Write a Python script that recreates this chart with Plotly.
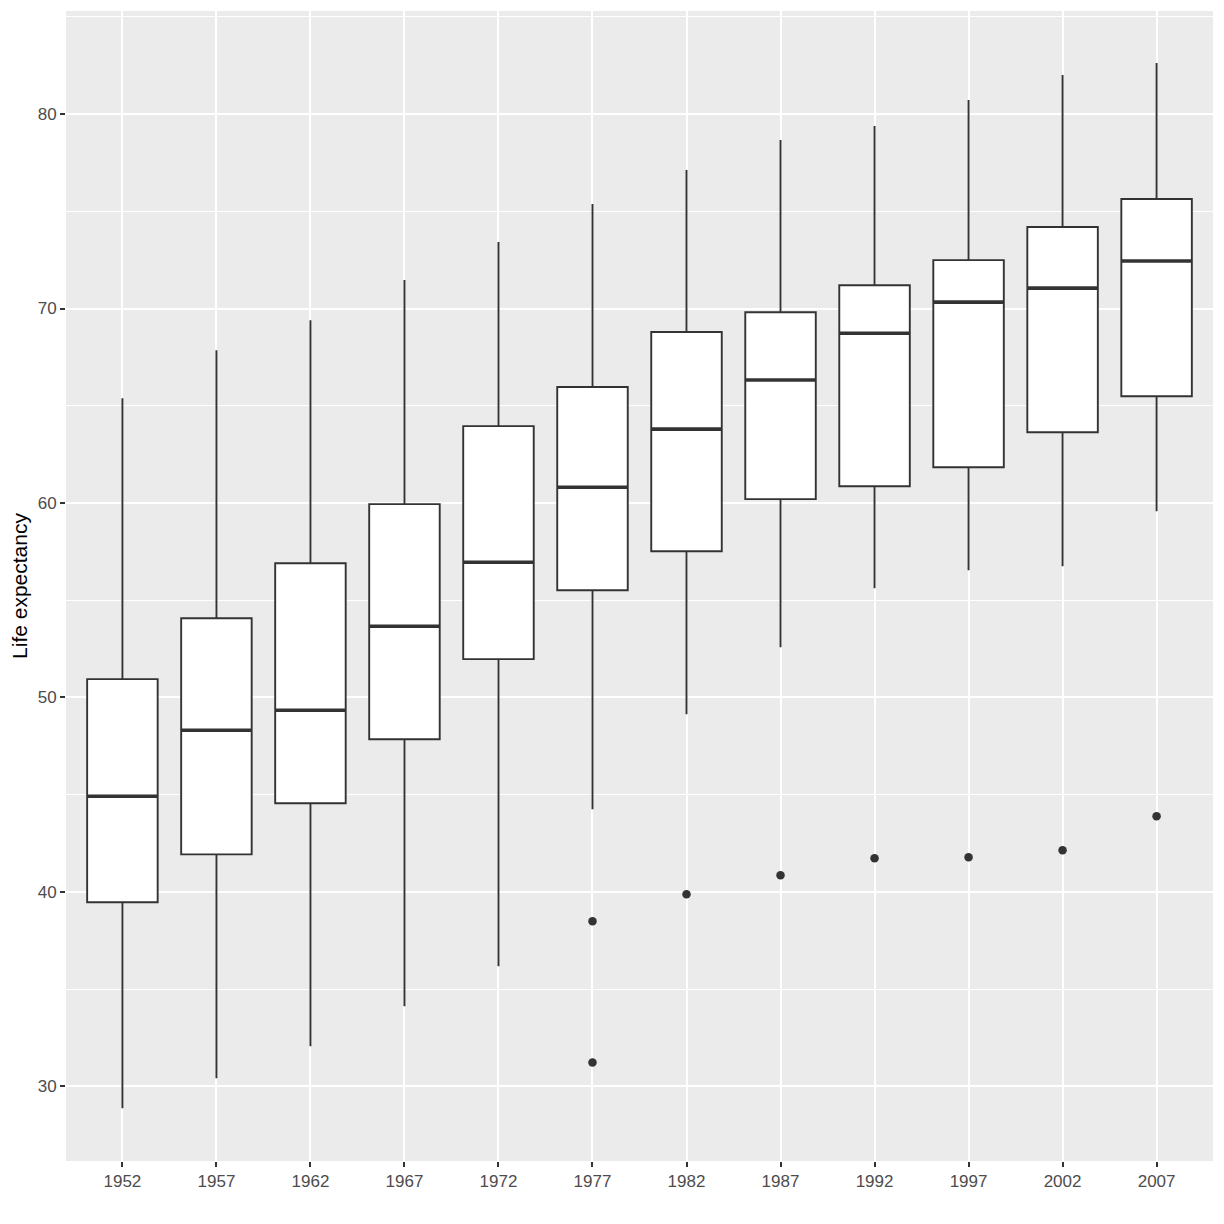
import plotly.graph_objects as go

years = ["1952", "1957", "1962", "1967", "1972", "1977", "1982", "1987", "1992", "1997", "2002", "2007"]
lower = [28.87, 30.41, 32.06, 34.12, 36.17, 44.25, 49.14, 52.58, 55.62, 56.54, 56.75, 59.58]
q1 = [39.47, 41.93, 44.56, 47.85, 51.97, 55.51, 57.52, 60.20, 60.86, 61.84, 63.64, 65.49]
median = [44.92, 48.31, 49.34, 53.66, 56.95, 60.81, 63.80, 66.32, 68.73, 70.33, 71.05, 72.44]
q3 = [50.94, 54.07, 56.90, 59.94, 63.95, 65.96, 68.79, 69.81, 71.20, 72.49, 74.19, 75.63]
upper = [65.39, 67.86, 69.40, 71.46, 73.42, 75.37, 77.12, 78.66, 79.38, 80.72, 82.01, 82.62]
outlier_years = ["1977", "1977", "1982", "1987", "1992", "1997", "2002", "2007"]
outlier_values = [38.49, 31.23, 39.88, 40.85, 41.73, 41.78, 42.14, 43.89]

BOX_W = 0.75
idx = list(range(len(years)))

fig = go.Figure()
fig.add_trace(go.Box(
    x=idx, q1=q1, median=median, q3=q3, lowerfence=lower, upperfence=upper,
    width=BOX_W, fillcolor="white", line=dict(color="#333333", width=1.9),
    boxpoints=False, whiskerwidth=0, showlegend=False,
))

mx, my = [], []
for i, m in zip(idx, median):
    mx += [i - BOX_W / 2, i + BOX_W / 2, None]
    my += [m, m, None]
fig.add_trace(go.Scatter(x=mx, y=my, mode="lines", line=dict(color="#333333", width=3.6),
                         showlegend=False, hoverinfo="skip"))

ox = [years.index(y) for y in outlier_years]
fig.add_trace(go.Scatter(x=ox, y=outlier_values, mode="markers",
                         marker=dict(color="#333333", size=8.5, line=dict(width=0)),
                         showlegend=False))

fig.update_layout(
    width=1224, height=1224,
    margin=dict(l=58, r=19, t=3, b=71),
    paper_bgcolor="white", plot_bgcolor="#EBEBEB",
    font=dict(family="Liberation Sans, Arial, sans-serif", color="#4D4D4D", size=17),
)
fig.update_xaxes(
    range=[-0.6, 11.6], tickmode="array", tickvals=idx, ticktext=years,
    showgrid=True, gridcolor="white", gridwidth=2.2, zeroline=False,
    ticks="outside", ticklen=5, tickwidth=1.8, tickcolor="#333333",
    tickfont=dict(size=17, color="#4D4D4D"), showline=False,
)
fig.update_yaxes(
    range=[26.16, 85.3], tickmode="array", tickvals=[30, 40, 50, 60, 70, 80],
    showgrid=True, gridcolor="white", gridwidth=2.2, zeroline=False,
    ticks="outside", ticklen=5, tickwidth=1.8, tickcolor="#333333",
    tickfont=dict(size=17, color="#4D4D4D"), showline=False,
    minor=dict(tickvals=[35, 45, 55, 65, 75, 85], showgrid=True, gridcolor="white", gridwidth=1.1, ticks=""),
    title=dict(text="Life expectancy", font=dict(size=21, color="black"), standoff=8),
)

fig.write_html("out.html")
